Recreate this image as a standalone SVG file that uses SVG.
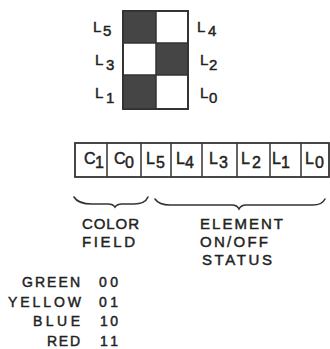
<svg xmlns="http://www.w3.org/2000/svg" width="330" height="349" viewBox="0 0 330 349">
<style>
text{font-family:"Liberation Sans",Arial,sans-serif;fill:#222;stroke:#222;stroke-width:0.45px;}
.lb{font-size:15px;}
.rg{font-size:16px;}
.cap{font-size:15px;}
.tb{font-size:14px;}
.dark{fill:#454545;}
.brace{fill:none;stroke:#333;stroke-width:1.6;stroke-linecap:round;}
</style>
<rect width="330" height="349" fill="#fff"/>
<g id="grid">
<rect x="123" y="11" width="65" height="98" fill="#fff" stroke="#333" stroke-width="2"/>
<rect class="dark" x="123" y="11" width="33" height="32"/>
<rect class="dark" x="156" y="43" width="32" height="32"/>
<rect class="dark" x="123" y="75" width="33" height="34"/>
<rect x="123" y="11" width="65" height="98" fill="none" stroke="#333" stroke-width="2"/>
<line x1="123" y1="43" x2="188" y2="43" stroke="#333" stroke-width="1.5"/>
<line x1="123" y1="75" x2="188" y2="75" stroke="#333" stroke-width="1.5"/>
<line x1="156" y1="11" x2="156" y2="109" stroke="#333" stroke-width="1.5"/>
</g>
<g id="grid-labels">
<text class="lb" x="93" y="32">L<tspan x="103" dy="3.5">5</tspan></text>
<text class="lb" x="95" y="65">L<tspan x="106" dy="5">3</tspan></text>
<text class="lb" x="95" y="98">L<tspan x="106" dy="4.5">1</tspan></text>
<text class="lb" x="197" y="32">L<tspan x="208" dy="3.5">4</tspan></text>
<text class="lb" x="200" y="65">L<tspan x="209" dy="5">2</tspan></text>
<text class="lb" x="200" y="98">L<tspan x="209" dy="4.5">0</tspan></text>
</g>
<g id="register">
<rect x="75" y="143" width="254" height="34" fill="#fff" stroke="#333" stroke-width="1.8"/>
<g stroke="#333" stroke-width="1.5">
<line x1="107" y1="143" x2="107" y2="177"/>
<line x1="141" y1="143" x2="141" y2="177"/>
<line x1="171" y1="143" x2="171" y2="177"/>
<line x1="202" y1="143" x2="202" y2="177"/>
<line x1="237" y1="143" x2="237" y2="177"/>
<line x1="270" y1="143" x2="270" y2="177"/>
<line x1="301" y1="143" x2="301" y2="177"/>
</g>
<text class="rg" x="84" y="164">C<tspan x="95" dy="4">1</tspan></text>
<text class="rg" x="114" y="164">C<tspan x="125" dy="4">0</tspan></text>
<text class="rg" x="146" y="164">L<tspan x="156" dy="4">5</tspan></text>
<text class="rg" x="176" y="164">L<tspan x="185" dy="4">4</tspan></text>
<text class="rg" x="209" y="164">L<tspan x="219" dy="4">3</tspan></text>
<text class="rg" x="241" y="164">L<tspan x="252" dy="4">2</tspan></text>
<text class="rg" x="272" y="164">L<tspan x="281" dy="4">1</tspan></text>
<text class="rg" x="305" y="164">L<tspan x="315" dy="4">0</tspan></text>
</g>
<g id="connectors">
<path class="brace" d="M74,197 Q78,204 92,204 L108,204 Q113,204 115,207 Q117,204 122,204 L134,204 Q145,204 148,197"/>
<path class="brace" d="M155,199 Q159,205 170,205 L232,205 Q237,205 239,209 Q241,205 246,205 L313,205 Q322,205 325,199"/>
</g>
<g id="color-field-label">
<text class="cap" x="82" y="229" textLength="57" lengthAdjust="spacing">COLOR</text>
<text class="cap" x="82" y="247" textLength="53" lengthAdjust="spacing">FIELD</text>
</g>
<g id="status-label">
<text class="cap" x="200" y="229" textLength="83" lengthAdjust="spacing">ELEMENT</text>
<text class="cap" x="200" y="247" textLength="68" lengthAdjust="spacing">ON/OFF</text>
<text class="cap" x="202" y="265" textLength="70" lengthAdjust="spacing">STATUS</text>
</g>
<g id="color-table">
<text class="tb" x="22" y="287" textLength="58" lengthAdjust="spacing">GREEN</text>
<text class="tb" x="99" y="287" textLength="19" lengthAdjust="spacing">00</text>
<text class="tb" x="8" y="306.5" textLength="73" lengthAdjust="spacing">YELLOW</text>
<text class="tb" x="99" y="306.5" textLength="19" lengthAdjust="spacing">01</text>
<text class="tb" x="33" y="326" textLength="47" lengthAdjust="spacing">BLUE</text>
<text class="tb" x="100" y="326" textLength="18" lengthAdjust="spacing">10</text>
<text class="tb" x="47" y="346" textLength="33" lengthAdjust="spacing">RED</text>
<text class="tb" x="100" y="346" textLength="18" lengthAdjust="spacing">11</text>
</g>
</svg>
